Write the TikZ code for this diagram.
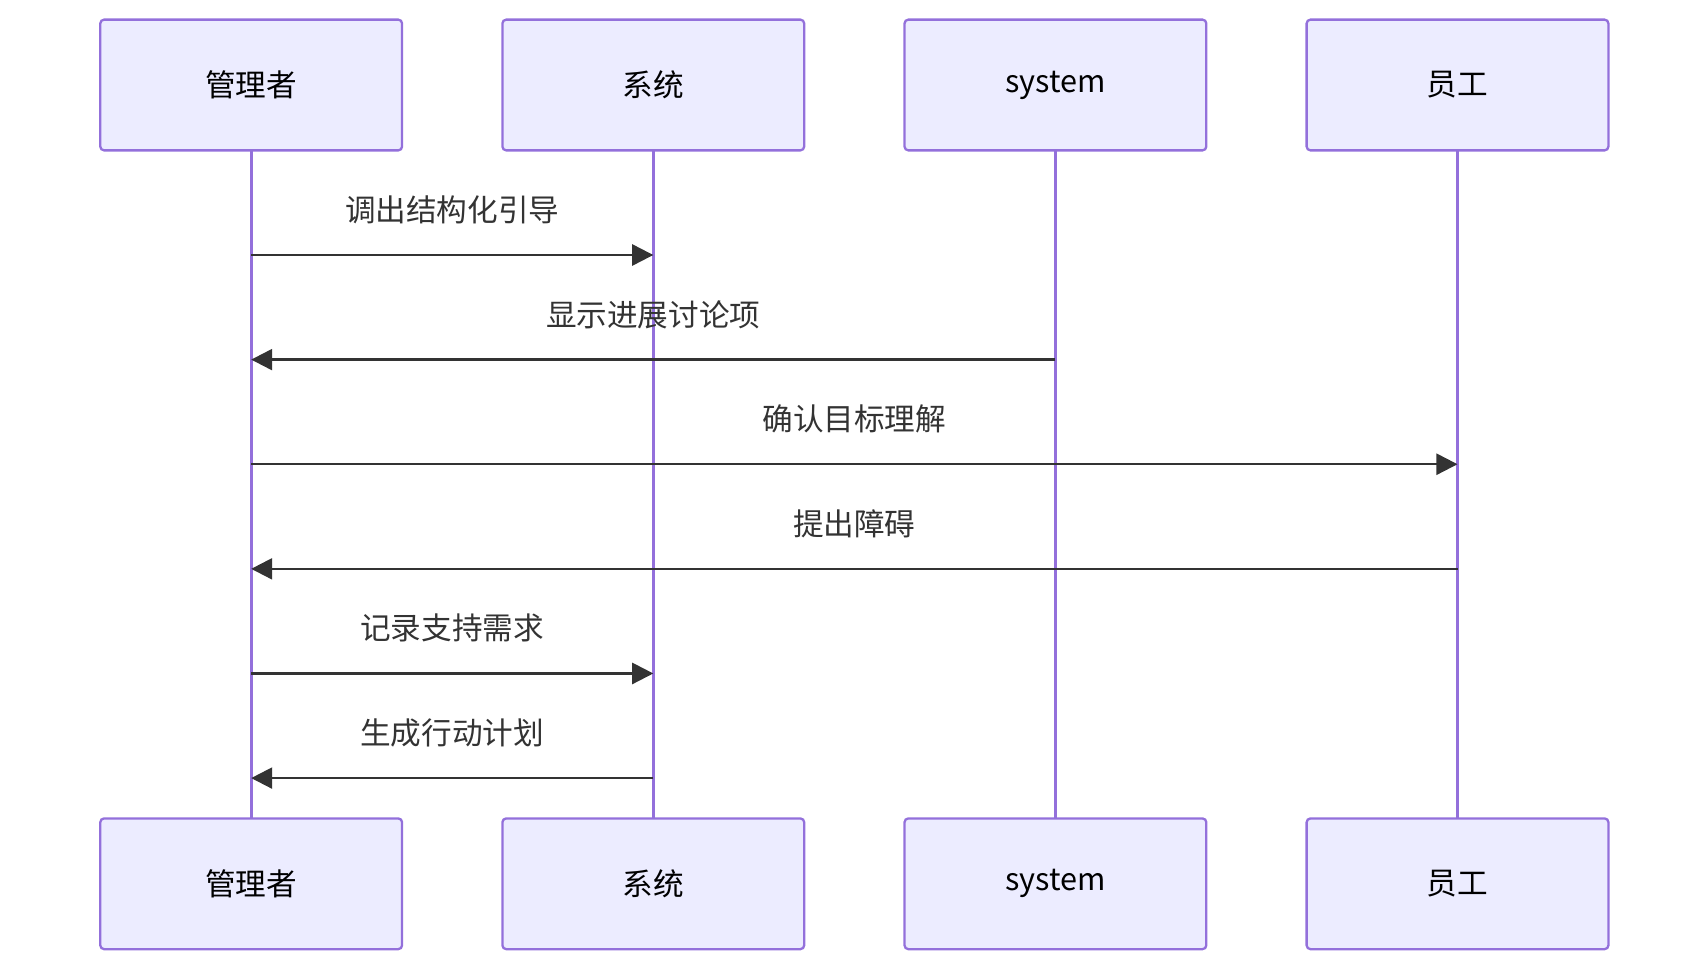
\documentclass[tikz,border=0pt]{standalone}
\usepackage{fontspec}
\setmainfont{Noto Sans CJK SC}
\usetikzlibrary{arrows.meta}
\definecolor{boxfill}{HTML}{ECECFF}
\definecolor{boxline}{HTML}{9370DB}
\definecolor{msg}{HTML}{333333}
\begin{document}
\begin{tikzpicture}[x=0.02cm,y=-0.02cm,
  actor/.style={draw=boxline,fill=boxfill,line width=1.2pt,rounded corners=2pt,minimum width=5.54cm,minimum height=2.4cm,font=\fontsize{16}{18}\selectfont,inner sep=0},
  life/.style={draw=boxline,line width=1.7pt},
  m/.style={draw=msg,line width=1.2pt,-{Triangle[length=11pt,width=11pt]}},
  lab/.style={font=\fontsize{16}{18}\selectfont,text=msg,above,inner sep=0,yshift=0.55cm}]
\useasboundingbox (0,0) rectangle (1560,886);
\foreach \n/\x/\t in {a/230.5/管理者,b/599.5/系统,c/968.5/system,d/1337.5/员工}{
  \draw[life] (\x,138) -- (\x,751);
  \node[actor] (\n t) at (\x,78) {\t};
  \node[actor] (\n b) at (\x,811) {\t};
}
\foreach \y/\f/\g/\t in {234/a/b/调出结构化引导,330/c/a/显示进展讨论项,426/a/d/确认目标理解,522/d/a/提出障碍,618/a/b/记录支持需求,714/b/a/生成行动计划}{
  \coordinate (s) at (\f t.south |- 0,\y);
  \coordinate (e) at (\g t.south |- 0,\y);
  \draw[m] (s) -- (e) node[lab,midway] {\t};
}
\end{tikzpicture}
\end{document}
